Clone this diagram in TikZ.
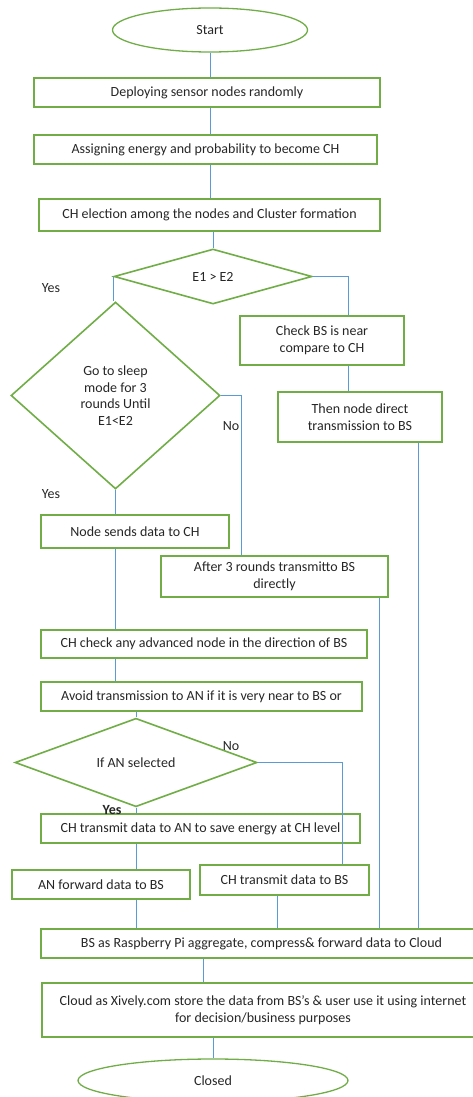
\documentclass[tikz,border=0pt]{standalone}
\usepackage{fontspec}
\setmainfont{Carlito}
\usepackage{tikz}
\usetikzlibrary{shapes.geometric}
\definecolor{boxgreen}{RGB}{112,173,71}
\definecolor{flowblue}{RGB}{91,155,213}
\definecolor{txtgrey}{RGB}{38,38,38}

\begin{document}
\begin{tikzpicture}[x=1pt,y=1pt,yscale=-1,xscale=1,
  font=\fontsize{14}{17.5}\selectfont, text=txtgrey,
  procbox/.style={draw=boxgreen, line width=1.6pt, rectangle, inner sep=1pt, align=center},
  termbox/.style={draw=boxgreen, line width=1.3pt, ellipse, inner sep=0pt},
  decbox/.style={draw=boxgreen, line width=1.6pt, diamond, inner sep=0pt, align=center},
  flow/.style={draw=flowblue, line width=0.8pt},
  lbl/.style={inner sep=0.75pt}]
%set diagram to the page size
\clip (0,0) rectangle (473,1097);

%Shape: Ellipse
\node[termbox, minimum width=195, minimum height=44] (start) at (210,30) {Start};
%Shape: Rectangle
\node[procbox, minimum width=346, minimum height=29] (deploy) at (207,92.5) {Deploying sensor nodes randomly};
%Shape: Rectangle
\node[procbox, minimum width=343, minimum height=29] (assign) at (205.5,149.5) {Assigning energy and probability to become CH};
%Shape: Rectangle
\node[procbox, minimum width=341, minimum height=32] (elect) at (209.5,215) {CH election among the nodes and Cluster formation};
%Shape: Diamond
\node[decbox, minimum width=198, minimum height=55] (cmp) at (213,276.5) {E1 {>} E2};
%Shape: Diamond
\node[decbox, minimum width=209, minimum height=187, font=\fontsize{14}{16.7}\selectfont] (sleep) at (115.5,395.5) {Go to sleep\\mode for 3\\rounds Until\\E1{<}E2};
%Shape: Rectangle
\node[procbox, minimum width=164, minimum height=49] (chkbs) at (322,340.5) {Check BS is near\\compare to CH};
%Shape: Rectangle
\node[procbox, minimum width=164, minimum height=50] (direct) at (360,417) {Then node direct\\transmission to BS};
%Shape: Rectangle
\node[procbox, minimum width=188, minimum height=33] (send) at (135,531.5) {Node sends data to CH};
%Shape: Rectangle
\node[procbox, minimum width=227, minimum height=41] (after) at (274.5,576.5) {After 3 rounds transmitto BS\\directly};
%Shape: Rectangle
\node[procbox, minimum width=326, minimum height=28] (chkan) at (204,644) {CH check any advanced node in the direction of BS};
%Shape: Rectangle
\node[procbox, minimum width=321, minimum height=29] (avoid) at (201.5,696.5) {Avoid transmission to AN if it is very near to BS or};
%Shape: Diamond
\node[decbox, minimum width=242, minimum height=59] (ansel) at (136,762.5) {If AN selected};
%Shape: Rectangle
\node[procbox, minimum width=319, minimum height=29] (toan) at (200.5,828.5) {CH transmit data to AN to save energy at CH level};
%Shape: Rectangle
\node[procbox, minimum width=178, minimum height=29] (anfwd) at (101,884.5) {AN forward data to BS};
%Shape: Rectangle
\node[procbox, minimum width=169, minimum height=30] (chbs) at (284.5,880) {CH transmit data to BS};
%Shape: Rectangle
\node[procbox, minimum width=441, minimum height=29] (bsrpi) at (261.5,943.5) {BS as Raspberry Pi aggregate, compress\& forward data to Cloud};
%Shape: Rectangle
\node[procbox, minimum width=442, minimum height=54] (cloud) at (263,1010) {Cloud as Xively.com store the data from BS’s \& user use it using internet\\for decision/business purposes};
%Shape: Ellipse
\node[termbox, minimum width=270, minimum height=43] (closed) at (213,1080.5) {Closed};

%Straight Lines
\draw[flow] (start.south) -- (start.south |- deploy.north);
\draw[flow] (deploy.south -| start) -- (assign.north -| start);
\draw[flow] (assign.south -| start) -- (elect.north -| start);
\draw[flow] (elect.south -| cmp.north) -- (cmp.north);
\draw[flow] (cmp.west) -- (cmp.west |- sleep.north);
\draw[flow] (cmp.east) -| ([xshift=26pt]chkbs.north);
\draw[flow] ([xshift=26pt]chkbs.south) -- ([xshift=26pt]chkbs.south |- direct.north);
\draw[flow] ([xshift=58pt]direct.south) -- ([xshift=58pt]direct.south |- bsrpi.north);
\draw[flow] (sleep.east) -| ([xshift=-33.5pt]after.north);
\draw[flow] (sleep.south) -- (sleep.south |- send.north);
\draw[flow] (send.south -| sleep.south) -- (chkan.north -| sleep.south);
\draw[flow] (chkan.south -| sleep.south) -- (avoid.north -| sleep.south);
\draw[flow] (ansel.north |- avoid.south) -- (ansel.north);
\draw[flow] (ansel.east) -| ([xshift=57.5pt]chbs.north);
\draw[flow] (ansel.south) -- (ansel.south |- toan.north);
\draw[flow] (toan.south -| ansel.south) -- (anfwd.north -| ansel.south);
\draw[flow] (anfwd.south -| ansel.south) -- (bsrpi.north -| ansel.south);
\draw[flow] ([xshift=-7.5pt]chbs.south) -- ([xshift=-7.5pt]chbs.south |- bsrpi.north);
\draw[flow] ([xshift=104.5pt]after.south) -- ([xshift=104.5pt]after.south |- bsrpi.north);
\draw[flow] ([xshift=-58.5pt]bsrpi.south) -- ([xshift=-58.5pt]bsrpi.south |- cloud.north);
\draw[flow] (cloud.south -| closed.north) -- (closed.north);

% Text Node
\node[lbl] (yesa) at (51,288) {Yes};
% Text Node
\node[lbl] (yesb) at (51,494) {Yes};
% Text Node
\node[lbl] (noa) at (231,426) {No};
% Text Node
\node[lbl] (nob) at (231,746) {No};
% Text Node
\node[lbl, font=\fontsize{14}{15}\selectfont\bfseries] (yesc) at (112,810) {Yes};

\end{tikzpicture}
\end{document}
